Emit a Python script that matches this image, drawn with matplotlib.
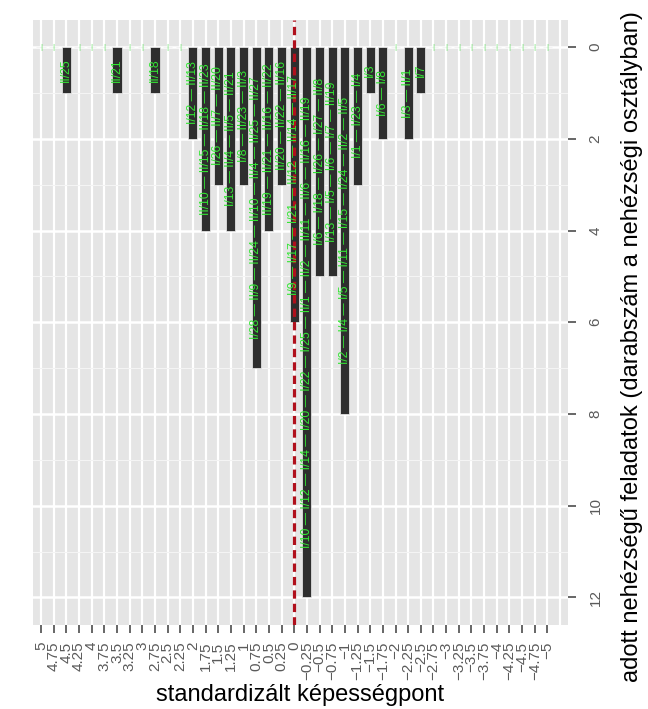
import matplotlib
matplotlib.use("Agg")
import matplotlib.pyplot as plt

plt.rcParams['font.family'] = ['Liberation Sans', 'DejaVu Sans']

# difficulty classes (standardised ability points), left to right
categories = ['5', '4.75', '4.5', '4.25', '4', '3.75', '3.5', '3.25', '3',
              '2.75', '2.5', '2.25', '2', '1.75', '1.5', '1.25', '1', '0.75',
              '0.5', '0.25', '0', '-0.25', '-0.5', '-0.75', '-1', '-1.25',
              '-1.5', '-1.75', '-2', '-2.25', '-2.5', '-2.75', '-3', '-3.25',
              '-3.5', '-3.75', '-4', '-4.25', '-4.5', '-4.75', '-5']

# number of tasks in each class
counts = [0, 0, 1, 0, 0, 0, 1, 0, 0,
          1, 0, 0, 2, 4, 3, 4, 3, 7,
          4, 3, 6, 12, 5, 5, 8, 3,
          1, 2, 0, 2, 1, 0, 0, 0,
          0, 0, 0, 0, 0, 0, 0]

# task ids inside each bar
tasks = ['', '', 'II/25', '', '', '', 'II/21', '', '',
         'II/18', '', '', 'I/12 — II/13',
         'II/10 — II/15 — II/18 — II/23',
         'I/26 — II/7 — II/20',
         'I/13 — II/4 — II/5 — II/21',
         'I/8 — II/23 — II/3',
         'I/28 — II/9 — II/24 — II/10 — II/4 — II/25 — II/27',
         'II/19 — II/21 — II/16 — II/22',
         'II/20 — II/22 — II/16',
         'I/9 — I/17 — I/21 — II/12 — II/14 — II/17',
         'I/10 — I/12 — I/14 — I/20 — I/22 — I/25 — II/1 — II/2 — II/11 — II/6 — II/16 — II/19',
         'I/6 — I/18 — I/26 — I/27 — II/8',
         'I/13 — I/5 — I/6 — I/7 — II/19',
         'I/2 — I/4 — I/5 — I/11 — I/15 — I/24 — II/2 — II/5',
         'I/1 — I/23 — I/4',
         'I/3', 'I/6 — I/8', '', 'I/3 — II/1', 'I/7', '', '', '',
         '', '', '', '', '', '', '']

y_ticks = [0, 2, 4, 6, 8, 10, 12]
mean_class = '0'

fig = plt.figure(figsize=(6.48, 7.09), dpi=100)
ax = fig.add_axes([33.4 / 648, 1 - 625 / 709, 534.3 / 648, 605.5 / 709])
ax.set_facecolor('#e5e5e5')

pos = list(range(len(categories)))

# grid
for p in pos + [len(categories)]:
    ax.axvline(p, color='white', lw=1.6, zorder=0)
for v in range(0, 13):
    if v % 2 == 0:
        ax.axhline(v, color='white', lw=1.8, zorder=0)
    else:
        ax.axhline(v, color='#f4f4f4', lw=0.8, zorder=0)

ax.bar(pos, counts, width=0.72, color='#2e2e2e', edgecolor='#f0f0f0',
       linewidth=0.5, zorder=2)

ax.axvline(categories.index(mean_class), color='#b0101c', lw=2.3,
           linestyle=(0, (2.6, 1.6)), zorder=3)

for p, c, t in zip(pos, counts, tasks):
    if c > 0:
        ax.text(p, c / 2, t, rotation=90, ha='center', va='center',
                fontsize=8.8, color='#33e633', zorder=4)
    else:
        ax.text(p, 0, '|', ha='center', va='center',
                fontsize=6, color='#66e066', zorder=4)

ax.set_xlim(-0.6, len(categories) + 0.6)
ax.set_ylim(12.6, -0.6)
ax.set_xticks(pos)
ax.set_xticklabels([c.replace('-', '\u2212') for c in categories])
ax.set_yticks(y_ticks)
ax.yaxis.tick_right()
for s in ax.spines.values():
    s.set_visible(False)

plt.setp(ax.get_xticklabels(), rotation=90, ha='center', va='top')
plt.setp(ax.get_yticklabels(), rotation=90, ha='left', va='center')
ax.tick_params(colors='#5a5a5a', labelsize=11, length=6, width=1.3)
ax.tick_params(axis='x', pad=6)
ax.tick_params(axis='y', pad=9)

ax.set_xlabel('standardizált képességpont', fontsize=17, labelpad=3)
fig.text(632 / 648, 1 - 347 / 709,
         'adott nehézségű feladatok (darabszám a nehézségi osztályban)',
         rotation=90, ha='center', va='center', fontsize=17)

fig.savefig('out.png', dpi=100)
